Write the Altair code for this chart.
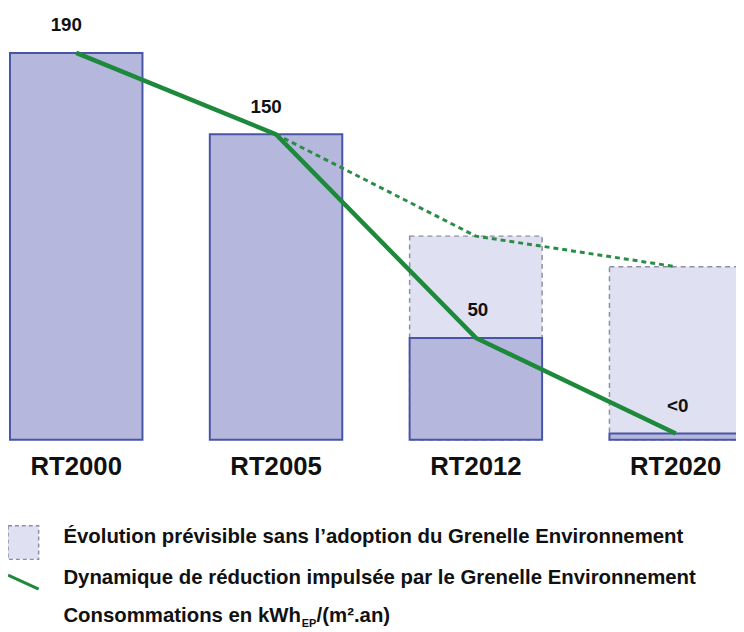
import altair as alt
import pandas as pd

categories = ["RT2000", "RT2005", "RT2012", "RT2020"]
consumption = [190, 150, 50, 3]
value_labels = ["190", "150", "50", "<0"]
forecast_categories = ["RT2005", "RT2012", "RT2020"]
forecast_values = [150, 100, 85]
forecast_bar_categories = ["RT2012", "RT2020"]
forecast_bar_values = [100, 85]

legend_rows = [
    "Évolution prévisible sans l\u2019adoption du Grenelle Environnement",
    "Dynamique de réduction impulsée par le Grenelle Environnement",
]
unit_parts = ["Consommations en kWh", "EP", "/(m\u00b2.an)"]

main = pd.DataFrame({"cat": categories, "val": consumption, "lab": value_labels})
fc_line = pd.DataFrame({"cat": forecast_categories, "val": forecast_values})
fc_bar = pd.DataFrame({"cat": forecast_bar_categories, "val": forecast_bar_values})

FONT = "Liberation Sans"

x = alt.X("cat:N", sort=categories, axis=None,
          scale=alt.Scale(domain=categories, range=[2, 742], paddingInner=0.337, paddingOuter=0))
y = alt.Y("val:Q", axis=None, scale=alt.Scale(domain=[0, 190], range=[433, 42], nice=False, zero=True))

fc_bars = alt.Chart(fc_bar).mark_bar(
    fill="#dfe0f1", stroke="#8d8ea3", strokeWidth=1.5, strokeDash=[5, 4]
).encode(x=x, y=y, y2=alt.datum(0))

bars = alt.Chart(main).mark_bar(
    fill="#b5b7dd", stroke="#4855a6", strokeWidth=2
).encode(x=x, y=y, y2=alt.datum(0))

fc_lines = alt.Chart(fc_line).mark_line(
    color="#2a8c45", strokeWidth=3, strokeDash=[5, 4]
).encode(x=x, y=y)

line = alt.Chart(main).mark_line(
    color="#1d8a3b", strokeWidth=4.5
).encode(x=x, y=y)

vals_left = alt.Chart(main.iloc[:2]).mark_text(
    font=FONT, fontSize=19, fontWeight="bold", color="#111111", baseline="middle", dy=-28, dx=-10
).encode(x=x, y=y, text="lab:N")
vals_right = alt.Chart(main.iloc[2:]).mark_text(
    font=FONT, fontSize=19, fontWeight="bold", color="#111111", baseline="middle", dy=-28, dx=2
).encode(x=x, y=y, text="lab:N")

cats = alt.Chart(main).mark_text(
    font=FONT, fontSize=26, fontWeight="bold", color="#111111", baseline="middle", dy=28
).encode(x=x, y=alt.datum(0), text="cat:N")

leg_df = pd.DataFrame({"t": [legend_rows[0]]})
leg_box = alt.Chart(leg_df).mark_rect(
    fill="#dfe0f1", stroke="#8d8ea3", strokeWidth=1.5, strokeDash=[4, 3]
).encode(x=alt.value(0), x2=alt.value(31), y=alt.value(520), y2=alt.value(554))

leg_line = alt.Chart(leg_df).mark_rule(color="#1d8a3b", strokeWidth=3).encode(
    x=alt.value(0), x2=alt.value(31), y=alt.value(570), y2=alt.value(584))

LS = 20.6
leg_t1 = alt.Chart(pd.DataFrame({"t": [legend_rows[0]]})).mark_text(
    font=FONT, fontSize=LS, fontWeight="bold", color="#111111", align="left", baseline="middle"
).encode(x=alt.value(56), y=alt.value(531), text="t:N")
leg_t2 = alt.Chart(pd.DataFrame({"t": [legend_rows[1]]})).mark_text(
    font=FONT, fontSize=LS, fontWeight="bold", color="#111111", align="left", baseline="middle"
).encode(x=alt.value(56), y=alt.value(573), text="t:N")
leg_t3 = alt.Chart(pd.DataFrame({"t": [unit_parts[0]]})).mark_text(
    font=FONT, fontSize=LS, fontWeight="bold", color="#111111", align="left", baseline="middle"
).encode(x=alt.value(56), y=alt.value(611), text="t:N")
leg_t4 = alt.Chart(pd.DataFrame({"t": [unit_parts[1]]})).mark_text(
    font=FONT, fontSize=11, fontWeight="bold", color="#111111", align="left", baseline="middle"
).encode(x=alt.value(297), y=alt.value(619), text="t:N")
leg_t5 = alt.Chart(pd.DataFrame({"t": [unit_parts[2]]})).mark_text(
    font=FONT, fontSize=LS, fontWeight="bold", color="#111111", align="left", baseline="middle"
).encode(x=alt.value(312), y=alt.value(611), text="t:N")

chart = alt.layer(
    fc_bars, bars, fc_lines, line, vals_left, vals_right, cats,
    leg_box, leg_line, leg_t1, leg_t2, leg_t3, leg_t4, leg_t5
).properties(
    width=736, height=624, padding=0, autosize=alt.AutoSizeParams(type="none"),
    background="white"
).configure_view(stroke=None)

chart.save("out.html", embed_options={"renderer": "svg", "actions": False})
